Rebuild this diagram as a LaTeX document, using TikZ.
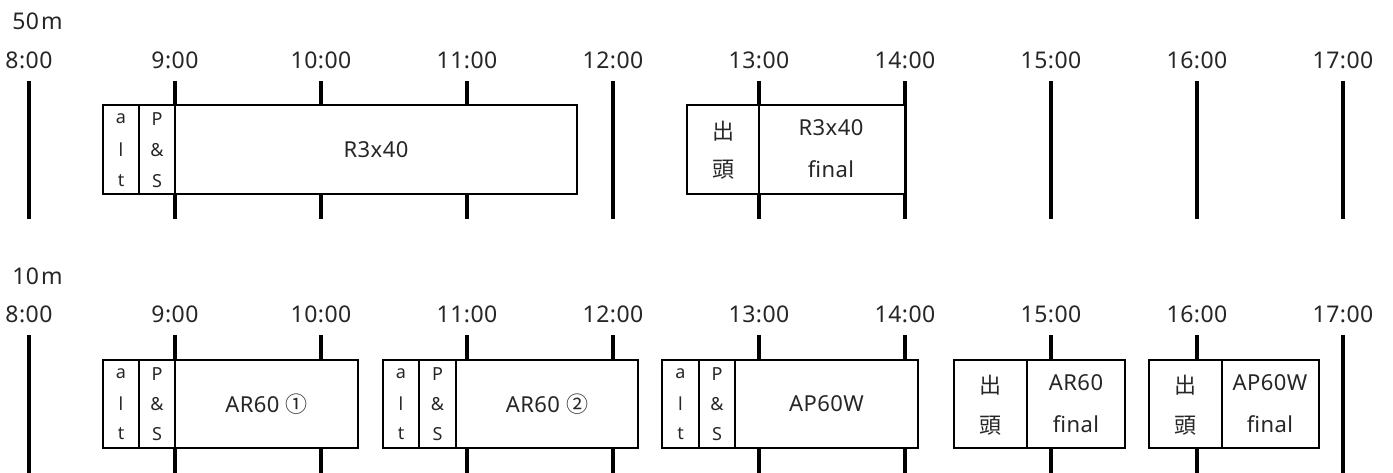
\documentclass[tikz,border=0pt]{standalone}
\usepackage{fontspec}
\setmainfont{Noto Sans}[LetterSpace=2]
\newfontfamily\jpfont{Noto Sans CJK JP}
\begin{document}
\begin{tikzpicture}[x=1pt,y=-1pt,
  hourline/.style={line width=4pt},
  boxline/.style={draw, line width=1.8pt, fill=white},
  divline/.style={line width=1.8pt},
  timelbl/.style={inner sep=0pt, font=\fontsize{23}{27}\selectfont, text=black!85},
  dist/.style={inner sep=0pt, font=\fontsize{23}{27}\selectfont, text=black!85},
  tiny/.style={inner sep=0pt, font=\fontsize{18}{21}\selectfont, text=black!85},
  mainlbl/.style={inner sep=0pt, font=\fontsize{22}{26}\selectfont, text=black!85},
  jplbl/.style={inner sep=0pt, font=\jpfont\fontsize{22}{26}\selectfont, text=black!85}]
\useasboundingbox (0,0) rectangle (1393,473);
% distance labels
\node[dist] (d50) at (37.5,21) {50\hspace{2pt}m};
\node[dist] (d10) at (37.5,276) {10\hspace{2pt}m};
% time labels and hour lines
\foreach \i/\t in {0/8:00,1/9:00,2/10:00,3/11:00,4/12:00,5/13:00,6/14:00,7/15:00,8/16:00,9/17:00}{
  \node[timelbl] (ta\i) at (29+146*\i,60) {\t};
  \node[timelbl] (tb\i) at (29+146*\i,314) {\t};
  \draw[hourline] (29+146*\i,81) -- (29+146*\i,219);
  \draw[hourline] (29+146*\i,335) -- (29+146*\i,474);
}
% ---------- top row (50 m) ----------
\draw[boxline] (103,105) rectangle (577,194);
\draw[divline] (139,105) -- (139,194) (175,105) -- (175,194);
\node[tiny] (a1) at (121,119) {a};
\node[tiny] (l1) at (121,150) {l};
\node[tiny] (t1) at (121,181) {t};
\node[tiny] (p1) at (157,119) {P};
\node[tiny] (n1) at (157,150) {\&};
\node[tiny] (s1) at (157,181) {S};
\node[mainlbl] (r1) at (376,150) {R3x40};

\draw[boxline] (687,105) rectangle (905,194);
\draw[divline] (759,105) -- (759,194);
\node[jplbl] (c1) at (723,131) {出};
\node[jplbl] (h1) at (723,170) {頭};
\node[mainlbl] (r2) at (831,128) {R3x40};
\node[mainlbl] (f2) at (831,169) {final};

% ---------- bottom row (10 m) ----------
\foreach \L/\A/\B/\R/\k in {103/139/175/358/3,383/419/456/638/4,662/699/735/918/5}{
  \draw[boxline] (\L,360) rectangle (\R,448);
  \draw[divline] (\A,360) -- (\A,448) (\B,360) -- (\B,448);
  \node[tiny] (a\k) at ({(\L+\A)/2},374) {a};
  \node[tiny] (l\k) at ({(\L+\A)/2},404) {l};
  \node[tiny] (t\k) at ({(\L+\A)/2},434) {t};
  \node[tiny] (p\k) at ({(\A+\B)/2},374) {P};
  \node[tiny] (n\k) at ({(\A+\B)/2},404) {\&};
  \node[tiny] (s\k) at ({(\A+\B)/2},434) {S};
}
\node[mainlbl] (m3) at (266.5,404) {AR60 {\jpfont ①}};
\node[mainlbl] (m4) at (547,404) {AR60 {\jpfont ②}};
\node[mainlbl] (m5) at (826.5,404) {AP60W};

\draw[boxline] (954,360) rectangle (1125,448);
\draw[divline] (1027,360) -- (1027,448);
\node[jplbl] (c6) at (990,385) {出};
\node[jplbl] (h6) at (990,426) {頭};
\node[mainlbl] (m6) at (1076,383) {AR60};
\node[mainlbl] (f6) at (1076,424) {final};

\draw[boxline] (1149,360) rectangle (1319,448);
\draw[divline] (1222,360) -- (1222,448);
\node[jplbl] (c7) at (1185,385) {出};
\node[jplbl] (h7) at (1185,426) {頭};
\node[mainlbl] (m7) at (1270,383) {AP60W};
\node[mainlbl] (f7) at (1270,424) {final};
\end{tikzpicture}
\end{document}
